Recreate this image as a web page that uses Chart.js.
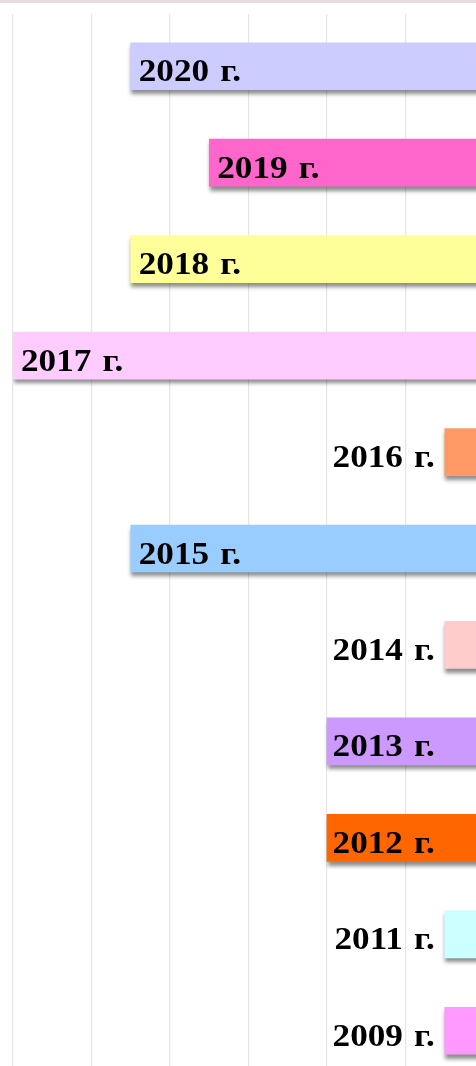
<!DOCTYPE html>
<html>
<head>
<meta charset="utf-8">
<script src="https://cdn.jsdelivr.net/npm/chart.js@4.4.1/dist/chart.umd.min.js"></script>
<style>
  html, body { margin: 0; padding: 0; background: #ffffff; overflow: hidden; width: 476px; height: 1066px; }
  #strip { position: absolute; left: 0; top: 0; width: 476px; height: 3px; background: #e8dde1; }
  #wrap { position: absolute; left: 0; top: 0; width: 660px; height: 1090px; }
</style>
</head>
<body>
<div id="wrap"><canvas id="c" width="660" height="1090"></canvas></div>
<div id="strip"></div>
<script>
const categories = ['2020 г.', '2019 г.', '2018 г.', '2017 г.', '2016 г.', '2015 г.', '2014 г.', '2013 г.', '2012 г.', '2011 г.', '2009 г.'];
const values = [6.5, 5.5, 6.5, 8, 2.5, 6.5, 2.5, 4, 4, 2.5, 2.5];
const barColors = ['#ccccff', '#ff66cc', '#ffff99', '#ffccff', '#ff9966', '#99ccff', '#ffcccc', '#cc99ff', '#ff6600', '#ccffff', '#ff99ff'];
const axisMin = 0;
const axisMax = 8;

const shadowPlugin = {
  id: 'barShadow',
  beforeDatasetsDraw(chart) {
    const ctx = chart.ctx;
    ctx.save();
    ctx.shadowColor = 'rgba(0,0,0,0.45)';
    ctx.shadowBlur = 4;
    ctx.shadowOffsetX = 1;
    ctx.shadowOffsetY = 4;
  },
  afterDatasetsDraw(chart) {
    const ctx = chart.ctx;
    ctx.restore();
    const meta = chart.getDatasetMeta(0);
    const xs = chart.scales.x;
    const limit = xs.getPixelForValue(2.5) - 10;
    const sx = 1.1;
    ctx.save();
    ctx.font = 'bold 32px "Liberation Serif", "Times New Roman", serif';
    ctx.wordSpacing = '2px';
    ctx.fillStyle = '#000000';
    ctx.textBaseline = 'alphabetic';
    ctx.textAlign = 'left';
    meta.data.forEach((bar, i) => {
      const left = Math.min(bar.x, bar.base);
      const text = categories[i];
      const w = ctx.measureText(text).width * sx;
      const right = Math.min(left + 8 + w, limit);
      ctx.save();
      ctx.translate(right - w, bar.y + 15);
      ctx.scale(sx, 1);
      ctx.fillText(text, 0, 0);
      ctx.restore();
    });
    ctx.restore();
  }
};

new Chart(document.getElementById('c'), {
  type: 'bar',
  data: {
    labels: categories,
    datasets: [{
      data: values,
      backgroundColor: barColors,
      borderWidth: 0,
      barThickness: 47
    }]
  },
  options: {
    indexAxis: 'y',
    responsive: false,
    devicePixelRatio: 1,
    animation: false,
    layout: { padding: { top: 14, left: 13, right: 19, bottom: 11 } },
    plugins: { legend: { display: false }, tooltip: { enabled: false } },
    scales: {
      x: {
        position: 'top',
        reverse: true,
        min: axisMin,
        max: axisMax,
        ticks: { display: false, stepSize: 1 },
        grid: { color: '#e6e6e6', lineWidth: 1.2, drawTicks: true, tickLength: 4 },
        border: { display: false }
      },
      y: {
        display: false,
        grid: { display: false }
      }
    }
  },
  plugins: [shadowPlugin]
});
</script>
</body>
</html>
